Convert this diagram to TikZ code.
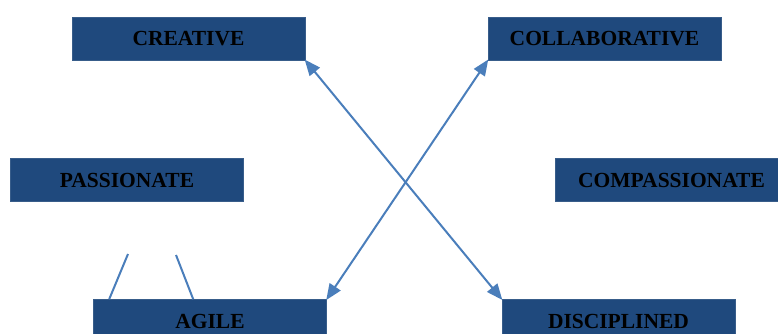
\documentclass[tikz,border=0pt]{standalone}
\usepackage{fontspec}
\setmainfont{Liberation Serif}
\usetikzlibrary{arrows.meta,calc}
\definecolor{boxblue}{RGB}{31,73,125}
\definecolor{boxedge}{RGB}{56,93,138}
\definecolor{arrowblue}{RGB}{74,126,187}

\begin{document}
\begin{tikzpicture}[
  x=1pt, y=-1pt,
  trait/.style={rectangle, draw=boxedge, line width=0.6pt, fill=boxblue, minimum width=233pt, minimum height=43pt, inner sep=0pt, align=center, font=\fontsize{21.5}{24}\selectfont\bfseries, text=black},
  arr/.style={{Triangle[length=16pt,width=13pt]}-{Triangle[length=16pt,width=13pt]}, line width=2pt, arrowblue, shorten <=-1pt, shorten >=-1pt},
  stroke/.style={line width=2pt, arrowblue}
]
  \clip (0,0) rectangle (778,334);
  \useasboundingbox (0,0) rectangle (778,334);

  % --- top row ---
  \node[trait] (creative) at (188.5,38.5) {CREATIVE};
  \node[trait] (collab) at (604.5,38.5) {COLLABORATIVE};

  % --- middle row ---
  \node[trait] (passion) at (127,180) {PASSIONATE};
  \node[trait] (compass) at (671.5,180) {COMPASSIONATE};

  % --- bottom row (cut by the page edge) ---
  \node[trait] (agile) at (210,321) {AGILE};
  \node[trait] (discip) at (618.5,321) {DISCIPLINED};

  % crossing double arrows
  \draw[arr] (creative.south east) -- (discip.north west);
  \draw[arr] (agile.north east) -- (collab.south west);

  % two loose strokes above AGILE
  \coordinate (s1) at (128,254);
  \coordinate (s2) at (176,255);
  \draw[stroke] (s1) -- ($(agile.north west)+(16,0)$);
  \draw[stroke] (s2) -- ($(agile.north west)+(100,0)$);

\end{tikzpicture}
\end{document}
